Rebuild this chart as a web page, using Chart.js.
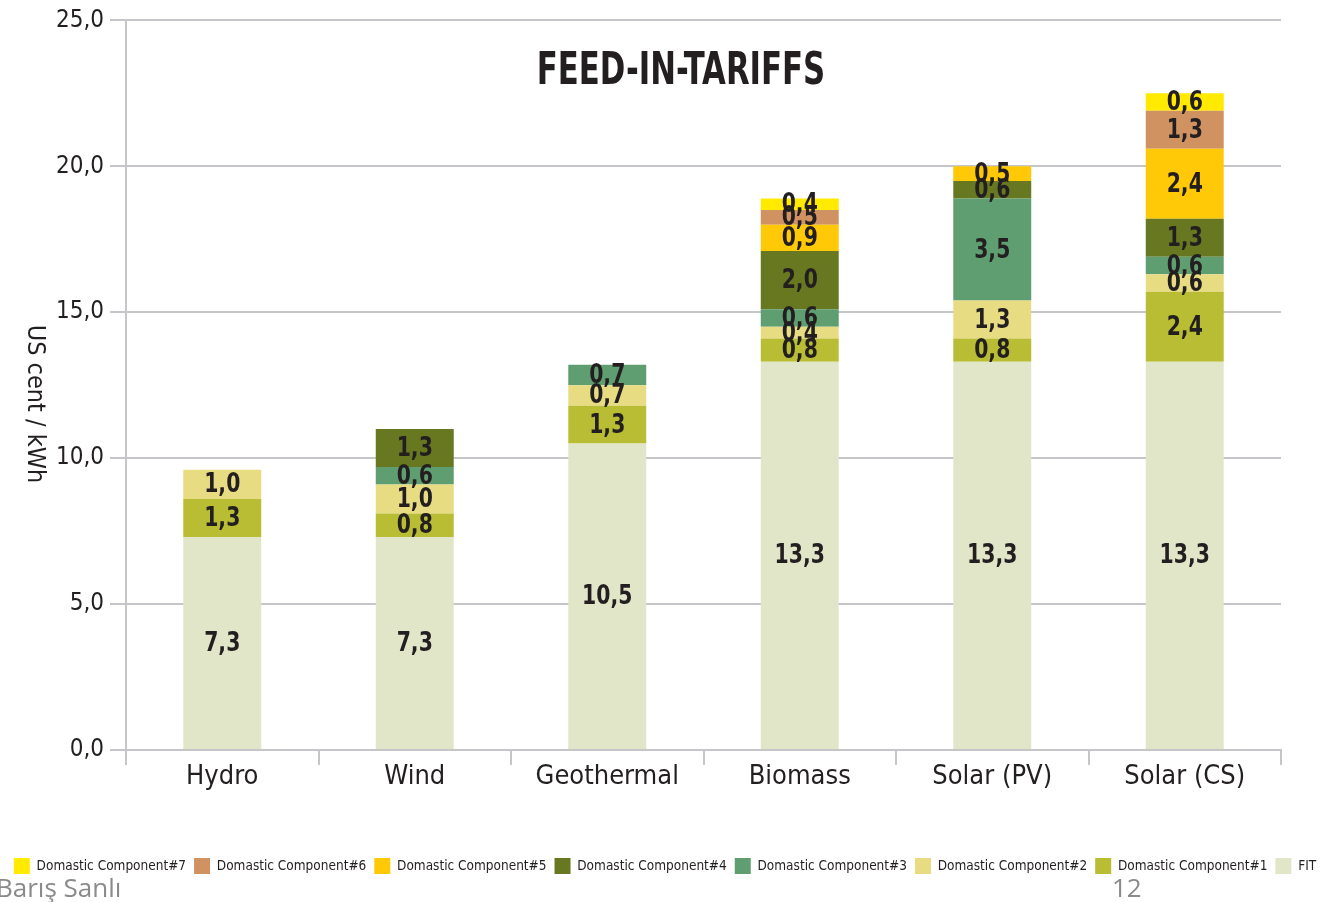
<!DOCTYPE html>
<html>
<head>
<meta charset="utf-8">
<script src="https://cdn.jsdelivr.net/npm/chart.js@4.4.1/dist/chart.umd.min.js"></script>
<style>
  html, body { margin: 0; padding: 0; background: #ffffff; }
  #wrap { position: relative; width: 1330px; height: 902px; overflow: hidden; }
  #c { position: absolute; left: 0; top: 0; }
  .foot { position: absolute; font-family: 'Open Sans', sans-serif; font-size: 26px; color: #8a8a8a; line-height: 1; }
</style>
</head>
<body>
<div id="wrap">
  <canvas id="c" width="1330" height="902"></canvas>
  <div class="foot" style="left:-4px; top:874px;">Barış Sanlı</div>
  <div class="foot" style="left:1112px; top:874px;">12</div>
</div>
<script>
const categories = ['Hydro', 'Wind', 'Geothermal', 'Biomass', 'Solar (PV)', 'Solar (CS)'];
const fit  = [7.3, 7.3, 10.5, 13.3, 13.3, 13.3];
const dc1  = [1.3, 0.8, 1.3, 0.8, 0.8, 2.4];
const dc2  = [1.0, 1.0, 0.7, 0.4, 1.3, 0.6];
const dc3  = [null, 0.6, 0.7, 0.6, 3.5, 0.6];
const dc4  = [null, 1.3, null, 2.0, 0.6, 1.3];
const dc5  = [null, null, null, 0.9, 0.5, 2.4];
const dc6  = [null, null, null, 0.5, null, 1.3];
const dc7  = [null, null, null, 0.4, null, 0.6];
const yTicks = [0, 5, 10, 15, 20, 25];
const chartTitle = 'FEED-IN-TARIFFS';
const yTitle = 'US cent / kWh';

const FONT = "'Liberation Sans Narrow', 'DejaVu Sans Condensed', 'Roboto Condensed', Roboto, sans-serif";
const TEXT = '#231f20';
const GRID = '#c4c6ca';
const fmt = v => v.toFixed(1).replace('.', ',');

const series = [
  {label: 'FIT', data: fit, color: '#e2e6c8'},
  {label: 'Domastic Component#1', data: dc1, color: '#b9bd33'},
  {label: 'Domastic Component#2', data: dc2, color: '#e8dc82'},
  {label: 'Domastic Component#3', data: dc3, color: '#5f9e70'},
  {label: 'Domastic Component#4', data: dc4, color: '#677820'},
  {label: 'Domastic Component#5', data: dc5, color: '#ffc907'},
  {label: 'Domastic Component#6', data: dc6, color: '#d19262'},
  {label: 'Domastic Component#7', data: dc7, color: '#ffea00'}
];

const barLabels = {
  id: 'barLabels',
  afterDatasetsDraw(chart) {
    const ctx = chart.ctx;
    chart.data.datasets.forEach((ds, i) => {
      const meta = chart.getDatasetMeta(i);
      meta.data.forEach((el, j) => {
        const v = ds.data[j];
        if (v == null) return;
        ctx.save();
        ctx.font = "bold 27px " + FONT;
        ctx.fillStyle = TEXT;
        ctx.textAlign = 'center';
        ctx.textBaseline = 'middle';
        ctx.translate(el.x, (el.y + el.base) / 2 + 1);
        ctx.scale(0.84, 1);
        ctx.fillText(fmt(v), 0, 0);
        ctx.restore();
      });
    });
  }
};

const extraText = {
  id: 'extraText',
  afterDraw(chart) {
    const ctx = chart.ctx;
    ctx.save();
    ctx.fillStyle = TEXT;
    ctx.textAlign = 'center';
    ctx.textBaseline = 'middle';
    ctx.translate(681, 72);
    ctx.scale(0.76, 1);
    ctx.font = "bold 45px " + FONT;
    ctx.fillText(chartTitle, 0, 0);
    ctx.restore();
    ctx.save();
    ctx.fillStyle = TEXT;
    ctx.textAlign = 'center';
    ctx.textBaseline = 'middle';
    ctx.translate(34, 404);
    ctx.rotate(Math.PI / 2);
    ctx.font = "25px " + FONT;
    ctx.fillText(yTitle, 0, 0);
    ctx.restore();
  }
};

new Chart(document.getElementById('c'), {
  type: 'bar',
  data: {
    labels: categories,
    datasets: series.map(s => ({
      label: s.label,
      data: s.data,
      backgroundColor: s.color,
      borderWidth: 0,
      categoryPercentage: 1.0,
      barPercentage: 0.405
    }))
  },
  options: {
    responsive: false,
    animation: false,
    layout: { padding: { top: 19, left: 0, right: 0, bottom: 18 } },
    plugins: {
      tooltip: { enabled: false },
      title: { display: false },
      legend: {
        position: 'bottom',
        reverse: true,
        labels: {
          font: { family: FONT, size: 13.5 },
          color: TEXT,
          boxWidth: 16,
          boxHeight: 16,
          padding: 8
        }
      }
    },
    scales: {
      x: {
        stacked: true,
        grid: { display: true, drawOnChartArea: false, drawTicks: true, tickLength: 15, color: GRID, lineWidth: 2, offset: true },
        border: { display: true, color: GRID, width: 2 },
        ticks: { color: TEXT, font: { family: FONT, size: 27 }, padding: -4 },
        afterFit(s) { s.height = 100; }
      },
      y: {
        stacked: true,
        min: 0, max: 25,
        afterBuildTicks(s) { s.ticks = yTicks.map(v => ({value: v})); },
        grid: { color: GRID, lineWidth: 2, tickLength: 16 },
        border: { display: true, color: GRID, width: 2 },
        ticks: { color: TEXT, font: { family: FONT, size: 24 }, padding: 6, callback: v => fmt(v) },
        afterFit(s) { s.width = 126; }
      },
      y2: {
        position: 'right',
        display: true,
        grid: { display: false, drawTicks: false },
        border: { display: false },
        ticks: { display: false },
        afterFit(s) { s.width = 49; }
      }
    }
  },
  plugins: [barLabels, extraText]
});
</script>
</body>
</html>
